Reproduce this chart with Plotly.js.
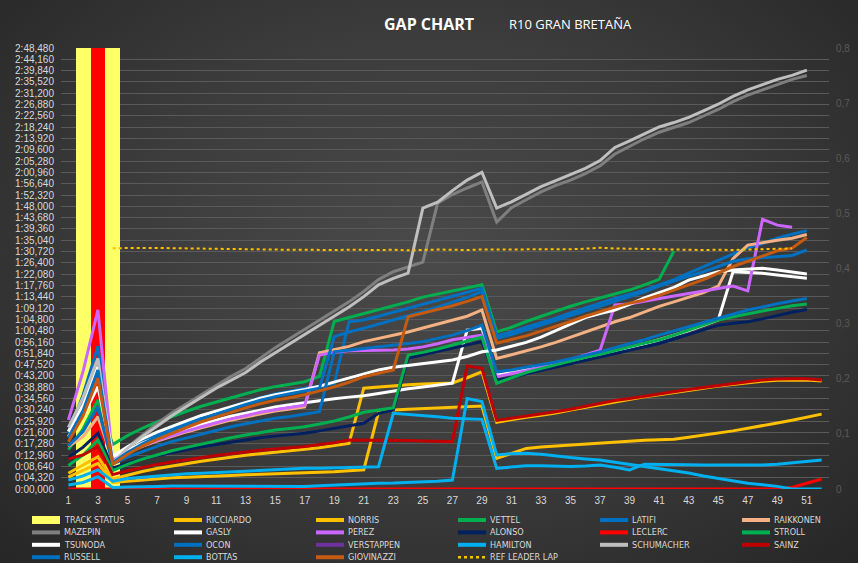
<!DOCTYPE html>
<html>
<head>
<meta charset="utf-8">
<script src="https://cdn.plot.ly/plotly-3.0.1.min.js"></script>
<style>
  html, body { margin: 0; padding: 0; }
  body {
    width: 858px; height: 563px; overflow: hidden;
    background: radial-gradient(ellipse at 50% 45%, #4a4a4a 0%, #3c3c3c 50%, #262626 100%);
  }
  #chart { width: 858px; height: 563px; }
</style>
</head>
<body>
<div id="chart"></div>
<script>
// gap to the leader in seconds, one value per lap starting at lap 1
const trackStatus     = [null, 0.8, 0.8, 0.8];
const trackStatusFlag = ['', 'YELLOW', 'RED', 'YELLOW'];

const ricciardo = [6.0, 9.0, 12.3, 3.8, 5.4, 6.7, 7.8, 8.8, 9.7, 10.6, 11.4, 12.2, 12.9, 13.5, 14.1, 14.6, 15.1, 15.8, 16.6, 17.4,
  38.5, 39.0, 39.4, 39.8, 40.1, 40.3, 40.5, 42.5, 44.8, 25.5, 26.5, 27.4, 28.2, 29.0, 30.2, 31.2, 32.2, 33.4, 34.3, 35.2,
  36.0, 36.9, 37.7, 38.5, 39.3, 40.0, 40.7, 41.2, 41.5, 41.6, 41.6, 41.3];
const norris = [4.5, 7.0, 9.8, 2.5, 3.0, 3.5, 4.0, 4.3, 4.5, 4.8, 5.0, 5.2, 5.4, 5.6, 5.8, 6.0, 6.1, 6.3, 6.6, 7.0,
  7.3, 29.5, 30.2, 30.5, 30.7, 31.0, 31.2, 31.4, 31.7, 11.7, 13.5, 15.5, 16.0, 16.4, 16.8, 17.2, 17.5, 18.0, 18.3, 18.6,
  18.8, 19.0, 19.8, 20.6, 21.3, 22.2, 23.2, 24.1, 25.2, 26.3, 27.5, 28.6];
const vettel = [15, 23, 34, 17, 20.4, 23.2, 25.6, 27.8, 29.7, 31.6, 33.3, 35, 36.4, 37.9, 39.1, 40, 41, 43, 64, 65.5,
  67, 68.4, 70, 71.5, 73.3, 74.5, 75.8, 77, 78, 60, 61.8, 64, 66, 68, 69.8, 71.5, 73, 74.5, 76, 78, 80.1, 90.9];
const latifi = [21.3, 36, 54.6, 10.5, 14.4, 17.8, 20.6, 23.1, 25.3, 27.6, 29.5, 31.5, 33.2, 34.9, 36.3, 37.4, 38.5, 39.3, 40.2, 63.9,
  64.6, 66, 67.5, 69, 70.5, 72, 73.5, 75, 76.7, 58.5, 60, 61.8, 63.5, 65.3, 67.3, 69.3, 71, 72.8, 74.5, 76,
  78, 80, 82.5, 85, 87.5, 90, 92.2, 93.8, 95.8, 97.3, 98.7];
const raikkonen = [16.2, 20, 27.6, 11, 13.9, 16.3, 18.3, 20.2, 21.8, 23.4, 24.9, 26.3, 27.5, 28.7, 29.8, 30.6, 31.4, 52, 53.2, 54.5,
  56.3, 57.5, 58.8, 60, 61.5, 63, 64.5, 66, 68.4, 49.9, 51.3, 52.7, 54.3, 56, 58, 60, 62, 63.9, 65.5, 67.8,
  69.8, 71.5, 73.3, 75, 77.5, 88, 93.2, 94.2, 95, 95.8, 97.2];
const mazepin = [22, 33, 47.5, 10.5, 16, 20.5, 25, 29, 32.5, 36, 39.5, 43, 46, 50, 54, 57.5, 61, 64.5, 68, 71.5,
  75.5, 80, 83, 85, 86.7, 109.2, 112.5, 115, 117.3, 102, 107.5, 110.5, 113.5, 116, 118, 120.5, 123.5, 128, 131, 133.8,
  136.3, 138, 140, 142.5, 145, 148, 150.5, 152.5, 154.5, 156.5, 158];
const gasly = [20, 28, 39.1, 12, 14.9, 17.5, 19.6, 21.5, 23.1, 24.8, 26.3, 27.8, 29, 30.3, 31.3, 32.2, 33, 33.8, 34.5, 35.1,
  35.6, 36.5, 37.5, 38.3, 39, 39.7, 40.4, 60.7, 61.4, 43.5, 44.5, 45.5, 46.5, 47.5, 48.7, 50, 51.3, 52.5, 54, 55.5,
  57, 58.8, 60.5, 62.5, 64.6, 83, 82.8, 82.4, 81.8, 81.1, 80.5];
const perez = [26.4, 45, 68.4, 11, 13.9, 16.5, 18.6, 20.5, 22.1, 23.8, 25.3, 26.8, 28, 29.3, 30.3, 31.2, 32, 51.2, 52.2, 52.8,
  53, 53, 53.1, 53.5, 54.3, 55.5, 57, 58, 58.8, 42.9, 44, 45.2, 46.5, 47.7, 49.5, 51.3, 53, 70.3, 70.7, 71.7,
  72.8, 73.7, 74.7, 75.6, 76.7, 77.5, 75.7, 103, 100.8, 100];
const alonso = [12, 16, 21.3, 8, 9.9, 11.5, 12.8, 14, 15, 16.1, 17, 18, 18.8, 19.6, 20.2, 20.8, 21.3, 22.2, 23.1, 24.1,
  25.1, 28.9, 30.2, 50, 51.3, 52.5, 53.8, 55, 56.3, 41.6, 42.5, 44, 45.3, 46.5, 47.8, 49.2, 50.5, 51.8, 53, 54.3,
  55.6, 57.3, 59, 60.8, 62.6, 63.3, 63.9, 65, 66.3, 67.5, 68.6];
const leclerc = [0, 0, 0, 0, 0, 0, 0, 0, 0, 0, 0, 0, 0, 0, 0, 0, 0, 0, 0, 0,
  0, 0, 0, 0, 0, 0, 0, 0, 0, 0, 0, 0, 0, 0, 0, 0, 0, 0, 0, 0,
  0, 0, 0, 0, 0, 0, 0, 0, 0, 0.6, 2.2, 3.8];
const stroll = [9, 13, 18.7, 7, 9.4, 11.4, 13, 14.6, 15.9, 17.2, 18.4, 19.6, 20.6, 21.6, 22.5, 23.1, 23.8, 24.8, 26, 27.5,
  29.3, 30.2, 31, 51.2, 52.2, 53.5, 55, 56.5, 58, 40.4, 42.3, 44.5, 46, 47.5, 49, 50.3, 51.5, 53, 54.3, 55.7,
  57, 58.8, 60.7, 62.6, 64.6, 65.8, 67, 68, 69, 70, 70.7];
const tsunoda = [22, 32, 46.7, 12.5, 16.1, 19.1, 21.7, 24, 26, 28.1, 29.8, 31.6, 33.2, 34.7, 36, 37, 38, 39.3, 40.8, 42.3,
  44, 45.5, 46.5, 47.2, 47.9, 48.6, 49.3, 50.6, 52.4, 53.1, 54.5, 56, 58, 60.5, 63, 65.5, 67, 68.4, 70.5, 73,
  75, 77, 79.8, 81.5, 83, 83.7, 84, 84.3, 83.7, 83, 82.1];
const ocon = [16.5, 22, 31.4, 9.5, 12.2, 14.4, 16.3, 18.1, 19.6, 21.1, 22.4, 23.8, 24.9, 26, 27, 27.7, 28.5, 29.5, 52.4, 53,
  53.7, 54.3, 55, 55.6, 56.3, 57.5, 58.8, 60.5, 62.6, 44.8, 45.5, 46.5, 47.5, 48.5, 49.8, 51, 52.4, 54, 55.5, 57,
  58.8, 60.5, 62, 63.6, 65.2, 66.8, 68.4, 69.5, 70.8, 71.8, 72.8];
const verstappen = [];
const hamilton = [1.5, 2.5, 4.7, 0.6, 0.8, 1.0, 1.0, 1.1, 1.1, 1.0, 1.0, 1.0, 0.9, 0.9, 0.9, 0.9, 1.0, 1.2, 1.5, 1.8,
  2.0, 2.2, 2.3, 2.5, 2.7, 3.0, 3.4, 34.6, 33.4, 13.0, 13.5, 13.7, 13.3, 12.6, 12.0, 11.5, 11.1, 10.2, 9.4, 8.6,
  7.9, 7.0, 6.1, 5.0, 4.0, 3.0, 2.2, 1.6, 1.0, 0, 0, 0];
const schumacher = [23.5, 35, 49.9, 10, 15.5, 20, 24, 28, 31.5, 35, 38.5, 41.5, 44.5, 48.5, 52, 55.5, 59, 62.5, 66, 69.5,
  73.5, 78, 80.5, 82.5, 107.3, 109.6, 114, 118, 121, 107.3, 109.7, 112.5, 115.5, 117.8, 120, 122.5, 125.5, 130.5, 133, 135.8,
  138.3, 140, 142, 144.5, 147, 150, 152.5, 154.5, 156.5, 158, 160];
const sainz = [11.5, 13.0, 16.2, 5.5, 7.0, 8.3, 9.4, 10.3, 11.2, 12.0, 12.8, 13.5, 14.2, 14.8, 15.3, 15.8, 16.2, 17.0, 17.7, 18.7,
  18.7, 18.7, 18.7, 18.5, 18.3, 18.2, 18.1, 47.0, 46.1, 26.2, 27.0, 27.8, 28.6, 29.5, 30.5, 31.6, 32.7, 33.8, 34.6, 35.5,
  36.3, 37.2, 38.0, 38.8, 39.6, 40.4, 41.0, 41.6, 42.0, 42.1, 42.1, 41.6];
const russell = [19.5, 30, 45.5, 10, 13.9, 17.2, 19.9, 22.4, 24.6, 26.8, 28.7, 30.6, 32.3, 33.9, 35.3, 36.4, 37.5, 38.5, 58.2, 60,
  61.4, 63, 64.5, 66, 67.7, 69.5, 71.3, 73.2, 75.5, 57.5, 59, 60.8, 62.5, 64.3, 66.2, 68, 69.8, 71.8, 73.5, 75.3,
  77.5, 79.5, 81.3, 83, 85, 87, 88, 88.4, 88.7, 89.2, 91.3];
const bottas = [3.4, 5.0, 7.3, 3.0, 4.0, 4.5, 5.0, 5.5, 5.8, 6.0, 6.3, 6.5, 6.8, 7.2, 7.5, 7.8, 7.9, 7.9, 8.0, 8.2,
  8.4, 8.5, 28.9, 28.5, 28.0, 27.6, 27.0, 26.8, 26.6, 7.9, 8.5, 8.9, 8.9, 8.7, 8.6, 8.8, 9.2, 8.3, 7.3, 9.5,
  9.5, 9.4, 9.3, 9.2, 9.2, 9.2, 9.1, 9.2, 9.5, 10.0, 10.5, 11.1];
const giovinazzi = [18, 28, 42.3, 9.5, 13.2, 16.4, 19, 21.4, 23.5, 25.7, 27.5, 29.4, 31, 32.6, 33.9, 34.9, 36, 37.5, 39, 40.8,
  42.9, 44.2, 45.5, 65.8, 67.2, 68.5, 70, 71.7, 73.5, 55.7, 57, 58.5, 60.3, 62, 64, 66, 67.8, 69.5, 71, 72.2,
  74, 76, 78, 80, 82.5, 85, 87, 89, 91, 92, 96.1];
// leader's lap time (s), from lap 4
const refLeaderLap = [null, null, null, 92.0, 92.1, 92.2, 92.1, 92.0, 91.9, 91.8, 91.8, 91.7, 91.6, 91.6, 91.5, 91.4, 91.4, 91.3, 91.3, 91.4,
  91.3, 91.3, 91.4, 91.2, 91.3, 91.5, 91.4, 91.3, 91.5, 91.5, 91.5, 91.6, 91.5, 91.5, 91.6, 91.8, 92.2, 91.9, 91.8, 91.5,
  91.5, 91.3, 91.4, 91.3, 91.4, 91.3, 91.5, 91.6, 91.8, 91.9];

const lapTicks = [1, 3, 5, 7, 9, 11, 13, 15, 17, 19, 21, 23, 25, 27, 29, 31, 33, 35, 37, 39, 41, 43, 45, 47, 49, 51];
const gapStep = 4.32;      // seconds between gridlines
const gapTickCount = 40;   // 0:00,000 .. 2:48,480
const rightTicks = [0, 0.1, 0.2, 0.3, 0.4, 0.5, 0.6, 0.7, 0.8];

// series in legend order (row by row, six per row)
const series = [
  {name: 'TRACK STATUS', kind: 'status'},
  {name: 'RICCIARDO', y: ricciardo, color: '#FFC000'},
  {name: 'NORRIS', y: norris, color: '#FFC000'},
  {name: 'VETTEL', y: vettel, color: '#00B050'},
  {name: 'LATIFI', y: latifi, color: '#0070C0'},
  {name: 'RAIKKONEN', y: raikkonen, color: '#F4B183'},
  {name: 'MAZEPIN', y: mazepin, color: '#7F7F7F'},
  {name: 'GASLY', y: gasly, color: '#FFFFFF'},
  {name: 'PEREZ', y: perez, color: '#CC66FF'},
  {name: 'ALONSO', y: alonso, color: '#002060'},
  {name: 'LECLERC', y: leclerc, color: '#FF0000'},
  {name: 'STROLL', y: stroll, color: '#00B050'},
  {name: 'TSUNODA', y: tsunoda, color: '#FFFFFF'},
  {name: 'OCON', y: ocon, color: '#0070C0'},
  {name: 'VERSTAPPEN', y: verstappen, color: '#7030A0'},
  {name: 'HAMILTON', y: hamilton, color: '#00B0F0'},
  {name: 'SCHUMACHER', y: schumacher, color: '#BFBFBF'},
  {name: 'SAINZ', y: sainz, color: '#C00000'},
  {name: 'RUSSELL', y: russell, color: '#0070C0'},
  {name: 'BOTTAS', y: bottas, color: '#00B0F0'},
  {name: 'GIOVINAZZI', y: giovinazzi, color: '#C55A11'},
  {name: 'REF LEADER LAP', y: refLeaderLap, color: '#FFC000', dash: 'dot'}
];

const flagColors = {YELLOW: '#FFFF66', RED: '#FF0000'};

function fmtGap(i) {
  const ms = Math.round(i * gapStep * 1000);
  const m = Math.floor(ms / 60000);
  const rem = ms % 60000;
  const s = Math.floor(rem / 1000);
  const milli = rem % 1000;
  return m + ':' + String(s).padStart(2, '0') + ',' + String(milli).padStart(3, '0');
}

const gapVals = [], gapText = [];
for (let i = 0; i < gapTickCount; i++) { gapVals.push(i * gapStep); gapText.push(fmtGap(i)); }
const gapMax = gapVals[gapVals.length - 1];

const traces = [];
traces.push({
  type: 'bar', x: trackStatus.map((_, i) => i + 1), y: trackStatus,
  marker: {color: trackStatusFlag.map(f => flagColors[f] || 'rgba(0,0,0,0)'), line: {width: 0}},
  width: 1, yaxis: 'y', hoverinfo: 'skip', showlegend: false
});
series.filter(s => s.kind !== 'status').forEach(s => {
  traces.push({
    type: 'scatter', mode: 'lines', name: s.name,
    x: s.y.map((_, i) => i + 1), y: s.y, yaxis: 'y2',
    line: {color: s.color, width: s.dash ? 2 : 3, dash: s.dash || 'solid'},
    connectgaps: false, showlegend: false
  });
});

// chart frame in pixels (858 x 563)
const W = 858, H = 563, M = {l: 61, r: 29, t: 48, b: 74};
const pw = W - M.l - M.r, ph = H - M.t - M.b;
const px2x = px => (px - M.l) / pw;
const py2y = py => (H - M.b - py) / ph;

const shapes = [], annotations = [];
const legFont = {family: 'DejaVu Sans Condensed, Liberation Sans Narrow, sans-serif', size: 9, color: '#D9D9D9'};
series.forEach((s, i) => {
  const col = i % 6, row = Math.floor(i / 6);
  const x0 = 32 + col * 142, yc = 520 + row * 12.4;
  if (s.kind === 'status') {
    shapes.push({type: 'rect', xref: 'paper', yref: 'paper', x0: px2x(x0), x1: px2x(x0 + 28),
      y0: py2y(yc - 4), y1: py2y(yc + 4), fillcolor: flagColors.YELLOW, line: {width: 0}});
  } else {
    shapes.push({type: 'line', xref: 'paper', yref: 'paper', x0: px2x(x0), x1: px2x(x0 + 28),
      y0: py2y(yc), y1: py2y(yc), line: {color: s.color, width: s.dash ? 2.5 : 4, dash: s.dash || 'solid'}});
  }
  annotations.push({xref: 'paper', yref: 'paper', x: px2x(x0 + 30), y: py2y(yc), text: s.name,
    showarrow: false, xanchor: 'left', yanchor: 'middle', font: legFont});
});

annotations.push({xref: 'paper', yref: 'paper', x: px2x(429), y: py2y(24), text: '<b>GAP CHART</b>',
  showarrow: false, xanchor: 'center', yanchor: 'middle',
  font: {family: 'Open Sans, sans-serif', size: 16, color: '#FFFFFF'}});
annotations.push({xref: 'paper', yref: 'paper', x: px2x(570), y: py2y(24), text: 'R10 GRAN BRETAÑA',
  showarrow: false, xanchor: 'center', yanchor: 'middle',
  font: {family: 'Open Sans, sans-serif', size: 13, color: '#FFFFFF'}});

const tickFont = {family: 'Liberation Sans, Arial, sans-serif', size: 10, color: '#D9D9D9'};

const layout = {
  width: W, height: H,
  margin: M,
  paper_bgcolor: 'rgba(0,0,0,0)',
  plot_bgcolor: 'rgba(0,0,0,0)',
  showlegend: false,
  bargap: 0,
  xaxis: {
    range: [0.5, 52.5], tickmode: 'array', tickvals: lapTicks, ticktext: lapTicks.map(String),
    showgrid: false, zeroline: false, showline: false, ticks: '', tickfont: tickFont, ticklabelstandoff: 4
  },
  yaxis: {
    range: [0, 0.8], side: 'right', tickmode: 'array', tickvals: rightTicks,
    ticktext: rightTicks.map(v => v === 0 ? '0' : v.toFixed(1).replace('.', ',')),
    showgrid: false, zeroline: false, showline: false, ticks: '',
    tickfont: {family: 'Liberation Sans, Arial, sans-serif', size: 10, color: '#5A5A5A'}, ticklabelstandoff: 6
  },
  yaxis2: {
    overlaying: 'y', side: 'left', range: [0, gapMax], tickmode: 'array', tickvals: gapVals, ticktext: gapText,
    showgrid: true, gridcolor: '#5A5A5A', gridwidth: 1, zeroline: false, showline: false, ticks: '',
    tickfont: tickFont, ticklabelstandoff: 6
  },
  shapes: shapes,
  annotations: annotations
};

Plotly.newPlot('chart', traces, layout, {displayModeBar: false, staticPlot: true});
</script>
</body>
</html>
